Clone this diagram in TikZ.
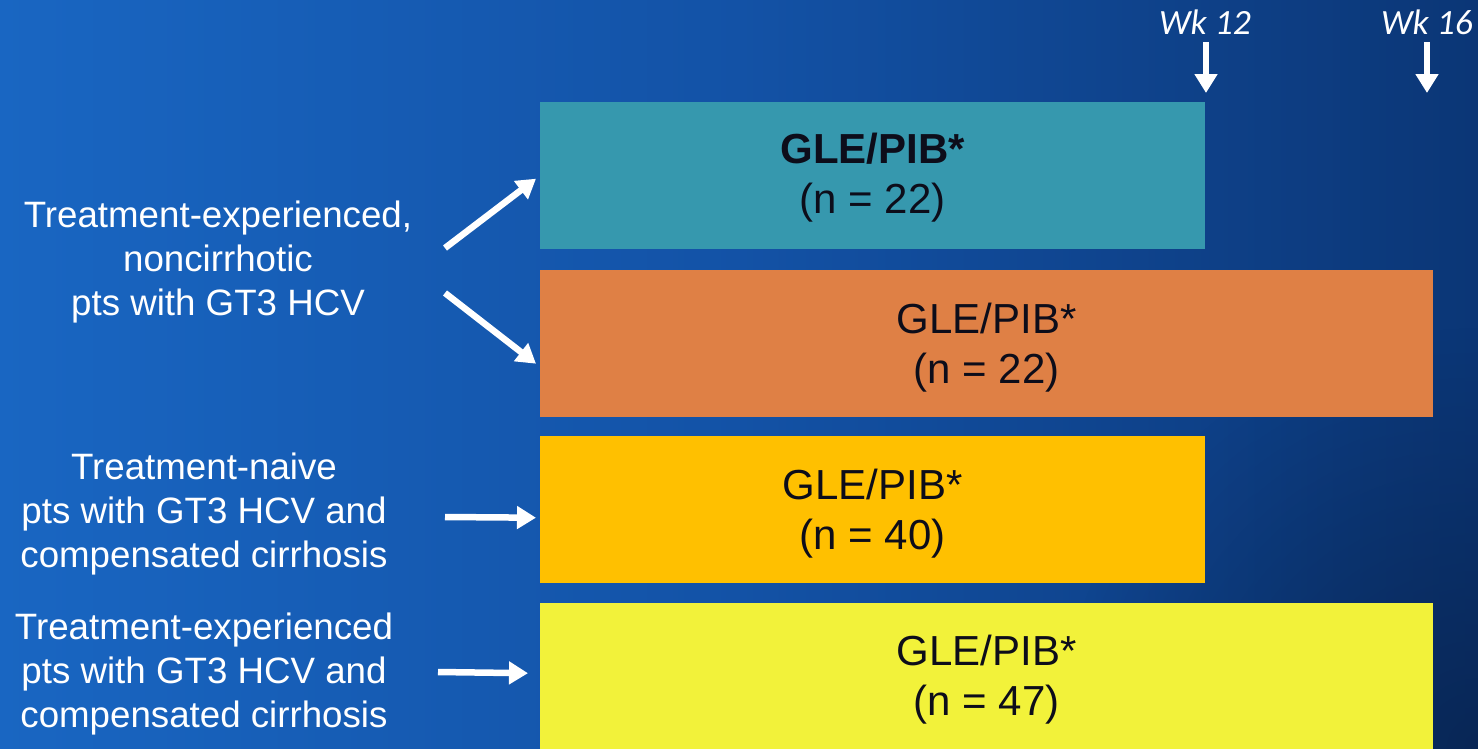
\documentclass[tikz,border=0pt]{standalone}
\usepackage{fontspec}
\setmainfont{Liberation Sans}
\newfontfamily\wkfont{Carlito}
\usepackage{tikz}
\usetikzlibrary{arrows.meta, calc, positioning, fadings}
\usepackage{xcolor}

\definecolor{bgleft}{HTML}{1966C2}
\definecolor{bgmid}{HTML}{1352A6}
\definecolor{bgright}{HTML}{0B3676}
\definecolor{bgdark}{HTML}{071C40}
\definecolor{armteal}{HTML}{3698AE}
\definecolor{armorange}{HTML}{DF8045}
\definecolor{armamber}{HTML}{FFC000}
\definecolor{armyellow}{HTML}{F2F23A}
\definecolor{armtext}{HTML}{0D0D1A}

\tikzfading[name=glow, inner color=transparent!0, outer color=transparent!100]

\begin{document}
\begin{tikzpicture}[x=1pt, y=-1pt,
    arm/.style={minimum height=147pt, inner sep=0pt, anchor=north west},
    armlabel/.style={text=armtext, align=center, font=\fontsize{42}{50}\selectfont, yshift=-3.5pt},
    group/.style={text=white, align=center, font=\fontsize{36.7}{44}\selectfont},
    link/.style={white, line width=6.5pt, -{Triangle[length=19pt, width=22pt]}},
    wk/.style={text=white, font=\wkfont\itshape\fontsize{35.5}{40}\selectfont}]
    % background
    \useasboundingbox (0,0) rectangle (1478,748);
    \shade[left color=bgleft, right color=bgright, middle color=bgmid] (0,0) rectangle (1478,748);
    \fill[bgdark, path fading=glow, opacity=0.6] (1478,748) circle (420);
    
    % study arms
    \node[arm, fill=armteal, minimum width=665pt,
        label={[armlabel, yshift=1.5pt]center:\textbf{GLE/PIB*}\\(n = 22)}] (box1) at (540,102) {};
    \node[arm, fill=armorange, minimum width=893pt,
        label={[armlabel]center:GLE/PIB*\\ (n = 22)}] (box2) at (540,270) {};
    \node[arm, fill=armamber, minimum width=665pt,
        label={[armlabel]center:GLE/PIB*\\(n = 40)}] (box3) at (540,436) {};
    \node[arm, fill=armyellow, minimum width=893pt, minimum height=146pt,
        label={[armlabel]center:GLE/PIB*\\(n = 47)}] (box4) at (540,603) {};
    
    % patient groups
    \node[group] (g1) at (218,262) {Treatment-experienced,\\noncirrhotic\\pts with GT3 HCV};
    \node[group] (g2) at (204,513.5) {Treatment-naive\\pts with GT3 HCV and\\compensated cirrhosis};
    \node[group] (g3) at (204,674) {Treatment-experienced\\pts with GT3 HCV and\\compensated cirrhosis};
    
    % arrows to arms
    \coordinate (s1) at (445,248);
    \coordinate (s2) at (445,293);
    \coordinate (s3) at (445,517);
    \coordinate (s4) at (438,672);
    \draw[link] (s1) -- ($(box1.west)+(-4,3)$);
    \draw[link] (s2) -- ($(box2.west)+(-4,20)$);
    \draw[link] (s3) -- ($(box3.west)+(-4,8)$);
    \draw[link] (s4) -- ($(box4.west)+(-12,-3)$);
    
    % week marks
    \node[wk] (wk12) at (1205,22) {Wk 12};
    \node[wk] (wk16) at (1427,22) {Wk 16};
    \coordinate (e12) at (1206,93);
    \coordinate (e16) at (1427,93);
    \draw[link] (wk12.south -| e12) ++(0,4) -- (e12);
    \draw[link] (wk16.south -| e16) ++(0,4) -- (e16);
\end{tikzpicture}
\end{document}
